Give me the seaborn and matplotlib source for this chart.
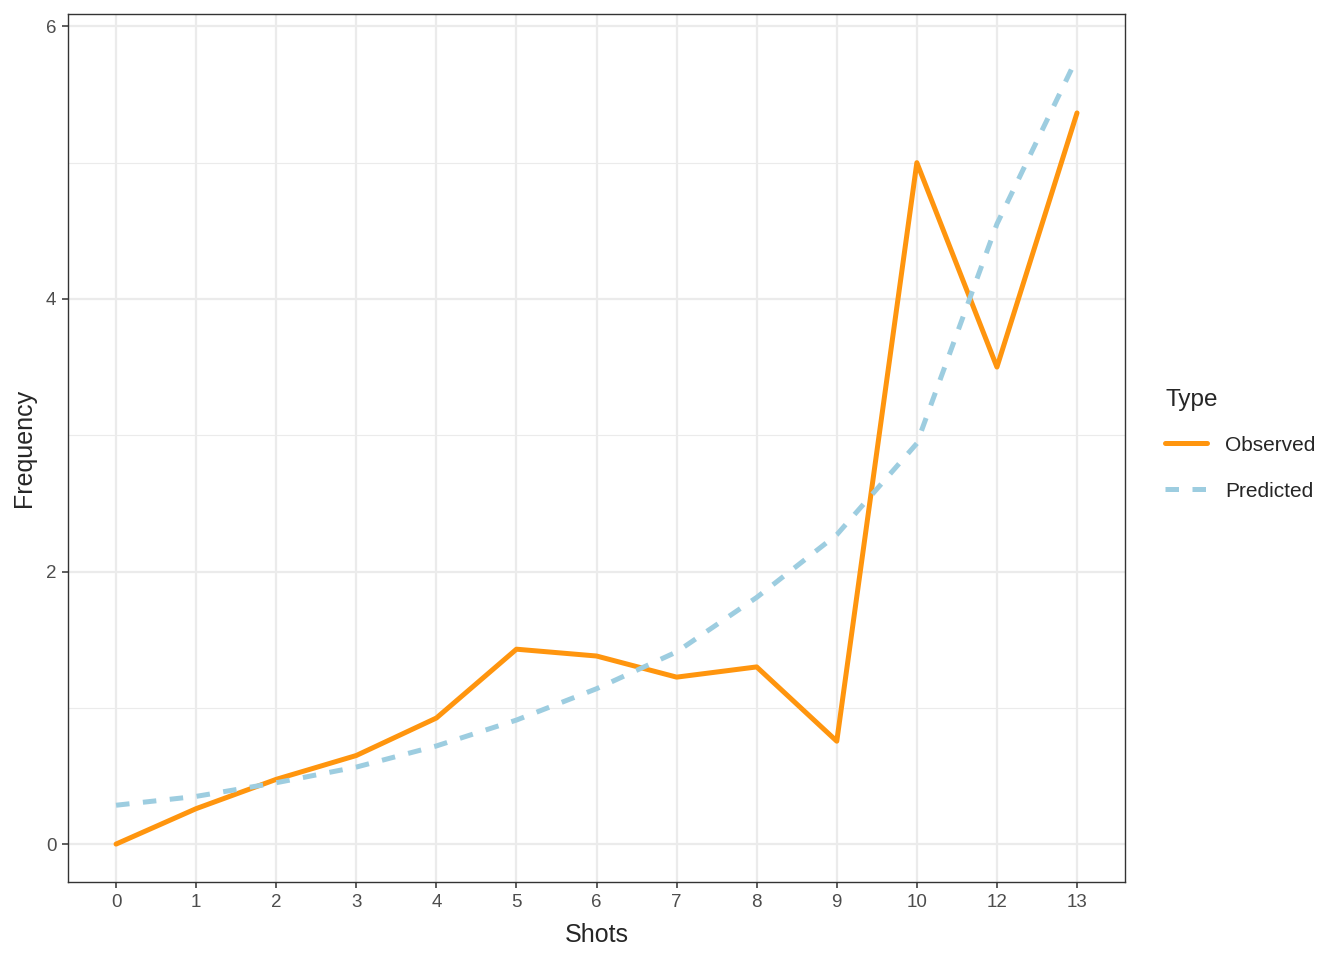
import pandas as pd
import matplotlib
matplotlib.use("Agg")
import matplotlib.pyplot as plt
import seaborn as sns

# values
shots = ["0", "1", "2", "3", "4", "5", "6", "7", "8", "9", "10", "12", "13"]
observed = [0.0, 0.26, 0.475, 0.65, 0.925, 1.43, 1.38, 1.225, 1.30, 0.755, 5.0, 3.5, 5.365]
predicted = [0.285, 0.35, 0.45, 0.565, 0.72, 0.91, 1.14, 1.41, 1.81, 2.27, 2.94, 4.55, 5.77]

df = pd.DataFrame({
    "Shots": shots * 2,
    "Frequency": observed + predicted,
    "Type": ["Observed"] * len(shots) + ["Predicted"] * len(shots),
})

sns.set_style("white")
plt.rcParams["font.family"] = ["Liberation Sans", "DejaVu Sans"]

fig = plt.figure(figsize=(13.44, 9.6), dpi=100)
ax = fig.add_axes([0.0506, 0.081, 0.7865, 0.904])

palette = {"Observed": "#FF950E", "Predicted": "#9DCDE0"}
sns.lineplot(data=df, x="Shots", y="Frequency", hue="Type", style="Type",
             palette=palette, dashes={"Observed": "", "Predicted": (2.7, 2.7)},
             linewidth=3.6, sort=False, ax=ax)

ax.set_xlim(-0.6, len(shots) - 1 + 0.6)
ax.set_ylim(-0.28, 6.088)
ax.set_yticks([0, 2, 4, 6])
ax.set_yticks([1, 3, 5], minor=True)

ax.grid(True, which="major", color="#EBEBEB", linewidth=1.6)
ax.grid(True, which="minor", axis="y", color="#EBEBEB", linewidth=0.8)
ax.set_axisbelow(True)
for s in ax.spines.values():
    s.set_color("#333333")
    s.set_linewidth(1.0)

ax.tick_params(axis="both", which="major", bottom=True, left=True, length=4.3,
               width=1.1, color="#333333", labelsize=13.5, labelcolor="#4D4D4D",
               direction="out", pad=4)
ax.tick_params(axis="y", which="minor", length=0)
ax.set_xlabel("Shots", fontsize=18, labelpad=9)
ax.set_ylabel("Frequency", fontsize=18, labelpad=7)

handles, labels = ax.get_legend_handles_labels()
ax.get_legend().remove()
leg = fig.legend(handles, labels, title="Type", loc="upper left",
                 bbox_to_anchor=(0.8594, 0.606), frameon=False, borderpad=0,
                 fontsize=15, title_fontsize=17.5, handlelength=2.0,
                 labelspacing=1.3, handletextpad=0.87)
leg._legend_box.align = "left"
leg._legend_box.sep = 18

fig.savefig("out.png", dpi=100)
